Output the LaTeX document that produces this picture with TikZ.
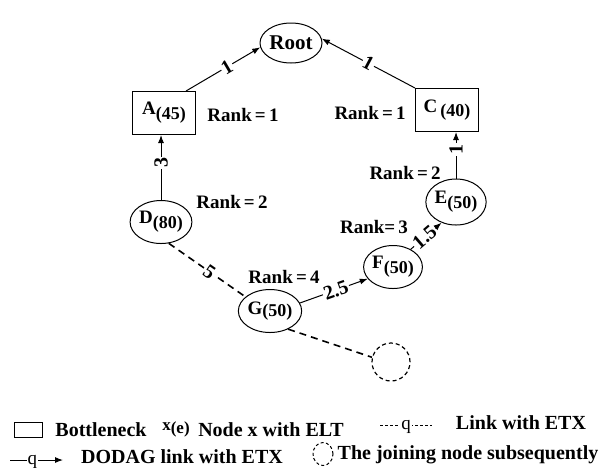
\documentclass[tikz,border=0pt]{standalone}
\usepackage{fontspec}
\setmainfont{Liberation Serif}
\usetikzlibrary{shapes.geometric,arrows.meta}
\newcommand{\elt}[3][2.5pt]{#2\raisebox{-#1}{\fontsize{9}{10}\selectfont#3}}

\begin{document}
\begin{tikzpicture}[x=0.5pt,y=-0.5pt,
  font=\fontsize{9.5}{11}\selectfont\bfseries,
  every node/.style={inner sep=0pt},
  box/.style={draw,line width=0.5pt,minimum width=31.5pt,minimum height=21.5pt},
  dot/.style={draw,ellipse,line width=0.5pt,minimum width=25.5pt,minimum height=21.5pt},
  edge/.style={line width=0.5pt,-{Latex[length=4pt,width=3pt]}},
  etx/.style={sloped,fill=white,inner sep=0.6pt,font=\fontsize{10}{11}\selectfont\bfseries},
  link/.style={line width=0.8pt,dash pattern=on 3.5pt off 2.5pt},
  legend/.style={font=\fontsize{10}{12}\selectfont\bfseries}]
  \useasboundingbox (0,0) rectangle (608,467);
  \node[dot,minimum width=31pt,minimum height=20pt] (root) at (291,43) {\fontsize{10.5}{12}\selectfont Root};
  \node[box] (A) at (164,113) {\elt{A}{(45)}};
  \node[box] (C) at (447,110) {C\,\raisebox{-2pt}{\fontsize{9}{10}\selectfont(40)}};
  \node[dot] (D) at (161,222) {\elt{D}{(80)}};
  \node[dot,minimum width=24pt,minimum height=23pt] (E) at (456,202) {\elt{E}{(50)}};
  \node[dot,minimum width=25pt] (F) at (393,267) {\elt{F}{(50)}};
  \node[dot] (G) at (270,311) {\elt[1pt]{G}{(50)}};
  \node[draw,circle,minimum size=19pt,line width=0.6pt,dash pattern=on 2pt off 1.5pt] (join) at (391,362) {};

  \node (rA) at (243,115) {Rank\,=\,1};
  \node (rC) at (370,113) {Rank\,=\,1};
  \node (rD) at (232,202) {Rank\,=\,2};
  \node (rE) at (405,173) {Rank\,=\,2};
  \node (rF) at (374,227) {Rank=\,3};
  \node (rG) at (284,277) {Rank\,=\,4};

  \draw[edge] ([xshift=-5pt]A.north east) -- node[etx,pos=0.55] {1} (root.188);
  \draw[edge] (C.north west) -- node[etx] {1} (root.8);
  \draw[edge] (D.north) -- node[etx,pos=0.57] {3} (D.north |- A.south);
  \draw[edge] (E.north) -- node[etx,pos=0.62] {1} (E.north |- C.south);
  \draw[edge] (F.45) -- node[etx,pos=0.45] {1.5} (E.235);
  \draw[edge] (G.15) -- node[etx,pos=0.53] {2.5} (F.205);
  \draw[link] (D.290) -- node[etx,pos=0.53] {5} (G.150);
  \draw[link] (G.315) -- (join.166);

  \node[draw,line width=0.5pt,minimum width=14pt,minimum height=7.5pt] (lbox) at (28,429.5) {};
  \node[legend] (lboxt) at (101,430) {Bottleneck};
  \node (lx) at (176,429) {\fontsize{8.5}{9}\selectfont x\raisebox{-1.5pt}{(e)}};
  \node[legend] (lxt) at (271,430) {Node x with ELT};
  \coordinate (la1) at (380,425);
  \coordinate (la2) at (432,425);
  \draw[line width=0.5pt,dash pattern=on 1.5pt off 1pt] (la1) -- node[fill=white,inner sep=0.5pt,anchor=mid,font=\fontsize{9.5}{10}\selectfont] (lq1) {q} (la2);
  \node[legend] (lat) at (521,423) {Link with ETX};
  \coordinate (lb1) at (10,460);
  \coordinate (lb2) at (63,460);
  \draw[edge] (lb1) -- node[fill=white,inner sep=0.5pt,anchor=mid,pos=0.42,font=\fontsize{9.5}{10}\selectfont] (lq2) {q} (lb2);
  \node[legend] (lbt) at (182,457) {DODAG link with ETX};
  \node[draw,ellipse,minimum width=10pt,minimum height=11.5pt,line width=0.5pt,dash pattern=on 1.5pt off 1.2pt] (ljoin) at (323,454) {};
  \node[legend] (ljoint) at (468,455) {The joining node subsequently};
\end{tikzpicture}
\end{document}
